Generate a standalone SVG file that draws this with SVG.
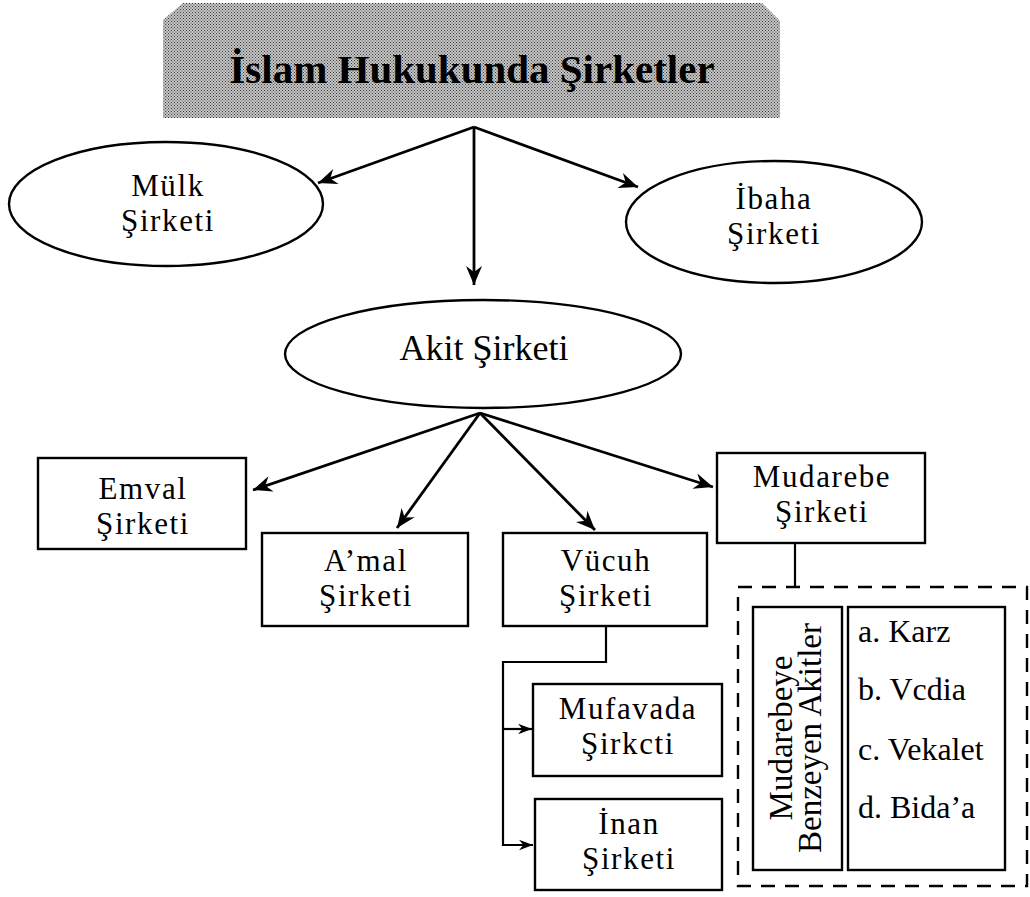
<svg xmlns="http://www.w3.org/2000/svg" width="1030" height="897" viewBox="0 0 1030 897">
<style>
  .node { fill: #ffffff; stroke: #000000; stroke-width: 2.4; }
  .t { font-family: "Liberation Serif", "Times New Roman", serif; font-size: 31px; letter-spacing: 1.6px; fill: #000; text-anchor: middle; }
  .t1 { font-family: "Liberation Serif", "Times New Roman", serif; font-size: 36px; fill: #000; text-anchor: middle; }
  .list { font-family: "Liberation Serif", "Times New Roman", serif; font-size: 32px; fill: #000; }
  .vt { font-family: "Liberation Serif", "Times New Roman", serif; font-size: 33px; fill: #000; text-anchor: middle; }
  .title { font-family: "Liberation Serif", "Times New Roman", serif; font-size: 41px; font-weight: bold; fill: #000; text-anchor: middle; }
  .edge { fill: none; stroke: #000; stroke-width: 2.8; }
  .elbow { fill: none; stroke: #000; stroke-width: 2.2; }
</style>
<defs>
  <pattern id="dots" width="3" height="3" patternUnits="userSpaceOnUse">
    <rect width="3" height="3" fill="#c6c6c6"/>
    <rect x="0" y="0" width="1" height="1" fill="#3a3a3a"/>
    <rect x="1.5" y="1.5" width="1" height="1" fill="#3a3a3a"/>
  </pattern>
  <marker id="arr" viewBox="-20 -9 22 18" markerWidth="22" markerHeight="18" refX="0" refY="0" orient="auto" markerUnits="userSpaceOnUse">
    <path d="M0,0 L-19,-8 L-13,0 L-19,8 Z" fill="#000"/>
  </marker>
  <marker id="arrs" viewBox="-18 -8 20 16" markerWidth="18" markerHeight="14" refX="0" refY="0" orient="auto" markerUnits="userSpaceOnUse">
    <path d="M0,0 L-16,-6 L-11,0 L-16,6 Z" fill="#000"/>
  </marker>
</defs>

<g id="title">
  <polygon points="163,20 183,3 762,3 780,21 780,118 163,118" fill="url(#dots)"/>
  <text class="title" x="472" y="83">İslam Hukukunda Şirketler</text>
</g>

<g id="connectors">
  <line class="edge" x1="474" y1="127" x2="318" y2="183" marker-end="url(#arr)"/>
  <line class="edge" x1="474" y1="127" x2="638" y2="187" marker-end="url(#arr)"/>
  <line class="edge" x1="474" y1="127" x2="474" y2="285" marker-end="url(#arr)"/>
  <line class="edge" x1="480" y1="413" x2="253" y2="490" marker-end="url(#arr)"/>
  <line class="edge" x1="480" y1="413" x2="397" y2="528" marker-end="url(#arr)"/>
  <line class="edge" x1="480" y1="413" x2="595" y2="530" marker-end="url(#arr)"/>
  <line class="edge" x1="480" y1="413" x2="713" y2="487" marker-end="url(#arr)"/>
  <path class="elbow" d="M606,626 V662 H503 V845 H533" marker-end="url(#arrs)"/>
  <path class="elbow" d="M503,729 H532" marker-end="url(#arrs)"/>
  <line class="elbow" x1="795" y1="543" x2="795" y2="587"/>
</g>

<g id="mulk">
  <ellipse class="node" cx="166" cy="204" rx="157" ry="62"/>
  <text class="t" x="168" y="196">Mülk</text>
  <text class="t" x="168" y="231">Şirketi</text>
</g>

<g id="ibaha">
  <ellipse class="node" cx="774" cy="222" rx="148" ry="61"/>
  <text class="t" x="774" y="209">İbaha</text>
  <text class="t" x="774" y="244">Şirketi</text>
</g>

<g id="akit">
  <ellipse class="node" cx="483" cy="354" rx="198" ry="54"/>
  <text class="t1" x="484" y="360">Akit Şirketi</text>
</g>

<g id="emval">
  <rect class="node" x="38" y="458" width="208" height="91"/>
  <text class="t" x="143" y="499">Emval</text>
  <text class="t" x="143" y="534">Şirketi</text>
</g>

<g id="amal">
  <rect class="node" x="262" y="533" width="206" height="93"/>
  <text class="t" x="366" y="571">A’mal</text>
  <text class="t" x="366" y="606">Şirketi</text>
</g>

<g id="vucuh">
  <rect class="node" x="503" y="533" width="204" height="93"/>
  <text class="t" x="606" y="571">Vücuh</text>
  <text class="t" x="606" y="606">Şirketi</text>
</g>

<g id="mudarebe">
  <rect class="node" x="717" y="453" width="208" height="90"/>
  <text class="t" x="822" y="487">Mudarebe</text>
  <text class="t" x="822" y="522">Şirketi</text>
</g>

<g id="mufavada">
  <rect class="node" x="533" y="684" width="189" height="92"/>
  <text class="t" x="628" y="719">Mufavada</text>
  <text class="t" x="628" y="754">Şirkcti</text>
</g>

<g id="inan">
  <rect class="node" x="535" y="799" width="187" height="91"/>
  <text class="t" x="629" y="834">İnan</text>
  <text class="t" x="629" y="869">Şirketi</text>
</g>

<g id="benzeyen">
  <rect x="738" y="587" width="289" height="299" fill="none" stroke="#000" stroke-width="2.4" stroke-dasharray="14 10"/>
  <rect class="node" x="753" y="607" width="89" height="263"/>
  <text class="vt" transform="translate(792,738) rotate(-90)">Mudarebeye<tspan x="0" dy="29">Benzeyen Akitler</tspan></text>
  <rect class="node" x="848" y="607" width="157" height="263"/>
  <text class="list" x="858" y="642">a. Karz</text>
  <text class="list" x="858" y="700">b. Vcdia</text>
  <text class="list" x="858" y="760">c. Vekalet</text>
  <text class="list" x="858" y="818">d. Bida’a</text>
</g>
</svg>
